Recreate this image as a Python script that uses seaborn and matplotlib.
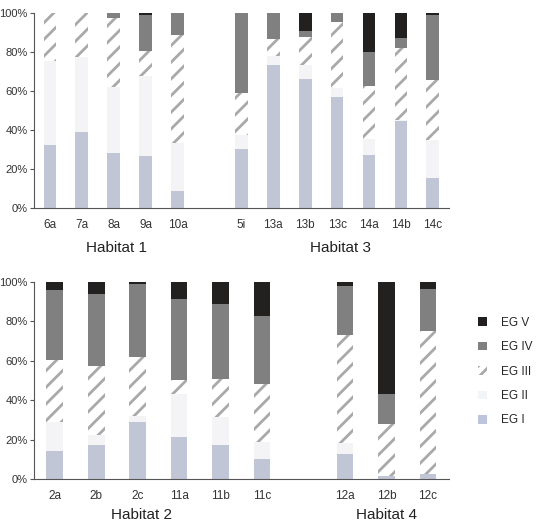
import numpy as np
import pandas as pd
import matplotlib
matplotlib.use("Agg")
import matplotlib.pyplot as plt
from matplotlib.patches import Patch
import seaborn as sns

sns.set_style("white")
plt.rcParams["font.family"] = ["Liberation Sans", "DejaVu Sans"]
plt.rcParams["hatch.linewidth"] = 2.0

groups = ["EG I", "EG II", "EG III", "EG IV", "EG V"]

# top panel: Habitat 1 + Habitat 3 (percent per group, bottom to top)
top_sites = ["6a", "7a", "8a", "9a", "10a", "5i", "13a", "13b", "13c", "14a", "14b", "14c"]
top_eg1 = [32, 39, 28, 26.5, 8.5, 30, 73, 66, 57, 27, 44.5, 15.5]
top_eg2 = [43, 38, 34, 41, 25, 7.5, 5, 7, 4.5, 8.5, 0.5, 19.5]
top_eg3 = [25, 23, 35, 13, 55, 21.5, 8.5, 14.5, 33.5, 27, 37, 30.5]
top_eg4 = [0, 0, 3, 18, 11.5, 41, 13.5, 3, 5, 17.5, 5, 33]
top_eg5 = [0, 0, 0, 1.5, 0, 0, 0, 9.5, 0, 20, 13, 1.5]

# bottom panel: Habitat 2 + Habitat 4
bot_sites = ["2a", "2b", "2c", "11a", "11b", "11c", "12a", "12b", "12c"]
bot_eg1 = [14, 17.5, 29, 21.5, 17.5, 10, 12.5, 1.5, 2.5]
bot_eg2 = [15, 5, 3, 21.5, 14, 9, 6, 0, 0]
bot_eg3 = [31.5, 35, 30, 7.5, 19.5, 29, 54.5, 26.5, 72.5]
bot_eg4 = [35.5, 36.5, 37, 41, 38, 34.5, 25, 15, 21.5]
bot_eg5 = [4, 6, 1, 8.5, 11, 17.5, 2, 57, 3.5]

top_order = top_sites[:5] + [" "] + top_sites[5:]
bot_order = bot_sites[:6] + [" "] + bot_sites[6:]

colors = {"EG I": "#BDC4DB", "EG II": "#F3F4F8", "EG III": "white",
          "EG IV": "#808080", "EG V": "#231F20"}
hatch_col = "#A9A9A9"


def make_frame(sites, layers):
    df = pd.DataFrame(dict(zip(groups, layers)), index=sites)
    return df.cumsum(axis=1)


def draw(ax, sites, layers, order, labels, label_y):
    cum = make_frame(sites, layers)
    # draw cumulative totals from the top group down so each one covers the next
    for g in groups[::-1]:
        d = pd.DataFrame({"site": sites, "val": cum[g].values})
        kw = dict(color=colors[g], linewidth=0)
        if g == "EG III":
            kw.update(hatch="//", edgecolor=hatch_col)
        sns.barplot(data=d, x="site", y="val", order=order, width=0.4,
                    errorbar=None, ax=ax, **kw)
    n = len(order)
    ax.set_xlim(-0.5, n - 0.5)
    ax.set_ylim(0, 100)
    ax.set_yticks([0, 20, 40, 60, 80, 100])
    ax.set_yticklabels([f"{v}%" for v in range(0, 101, 20)])
    ax.set_xticks(range(n))
    ax.set_xticklabels(order)
    ax.set_xticks(np.arange(-0.5, n, 1.0), minor=True)
    ax.tick_params(axis="x", which="major", length=0, pad=8, labelsize=8.5, colors="#333333")
    ax.tick_params(axis="x", which="minor", length=4, width=0.8, color="#555555")
    ax.tick_params(axis="y", length=3, width=0.8, pad=1.5, color="#555555", labelsize=8,
                   labelcolor="#333333", left=True)
    ax.set_xlabel("")
    ax.set_ylabel("")
    sns.despine(ax=ax)
    for s in ["left", "bottom"]:
        ax.spines[s].set_color("#555555")
        ax.spines[s].set_linewidth(0.8)
    for x, text in labels:
        ax.text(x, label_y, text, transform=ax.get_xaxis_transform(), ha="center",
                va="center", fontsize=11, color="#222222")


fig = plt.figure(figsize=(5.4, 5.22), dpi=100)
ax1 = fig.add_axes([0.063, 0.6015, 0.768, 0.3745])
ax2 = fig.add_axes([0.063, 0.0824, 0.768, 0.3774])

draw(ax1, top_sites, [top_eg1, top_eg2, top_eg3, top_eg4, top_eg5], top_order,
     [(2.1, "Habitat 1"), (9.1, "Habitat 3")], -0.205)
draw(ax2, bot_sites, [bot_eg1, bot_eg2, bot_eg3, bot_eg4, bot_eg5], bot_order,
     [(2.1, "Habitat 2"), (8.0, "Habitat 4")], -0.185)

handles = []
for g in groups[::-1]:
    if g == "EG III":
        handles.append(Patch(facecolor="white", edgecolor=hatch_col, hatch="///", linewidth=0, label=g))
    else:
        handles.append(Patch(facecolor=colors[g], linewidth=0, label=g))
fig.legend(handles=handles, loc="center left", bbox_to_anchor=(0.865, 0.288),
           frameon=False, fontsize=8.5, handlelength=0.75, handleheight=0.75,
           handletextpad=1.2, labelspacing=1.05)

fig.savefig("out.png", dpi=100)
